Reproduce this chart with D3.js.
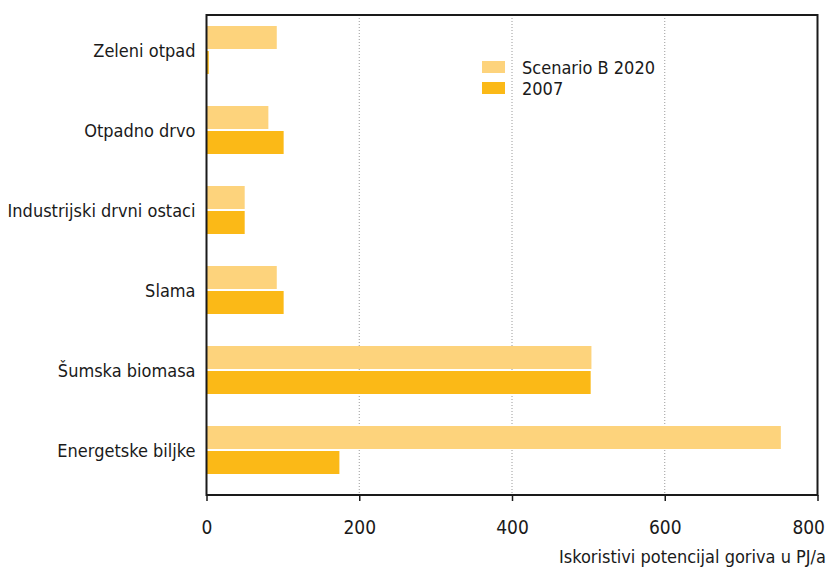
<!DOCTYPE html>
<html><head><meta charset="utf-8">
<script src="https://cdn.jsdelivr.net/npm/d3@7/dist/d3.min.js"></script>
<style>
body{margin:0;background:#fff;}
text{font-family:"DejaVu Sans Condensed","DejaVu Sans",sans-serif;font-stretch:condensed;fill:#1a1a1a;}
</style></head>
<body><svg id="c" width="827" height="569"></svg>
<script>
const categories = ["Zeleni otpad","Otpadno drvo","Industrijski drvni ostaci","Slama","Šumska biomasa","Energetske biljke"];
const scenario2020 = [92, 81, 50, 92, 504, 752];
const values2007 = [3, 101, 50, 101, 503, 174];
const seriesNames = ["Scenario B 2020","2007"];
const xTicks = [0,200,400,600,800];
const axisTitle = "Iskoristivi potencijal goriva u PJ/a";

const colors = ["#fdd37c","#fbb917"];
const svg = d3.select("#c");
const L=206.5, R=817.5, T=15, B=495;
const x = d3.scaleLinear().domain([0,800]).range([L,R]);
const y = d3.scaleBand().domain(categories).range([T,B]);
const barH = 23;

// grid
svg.append("g").selectAll("line").data(xTicks.filter(d=>d>0&&d<800)).join("line")
  .attr("x1",d=>x(d)).attr("x2",d=>x(d)).attr("y1",T).attr("y2",B)
  .attr("stroke","#9a9a9a").attr("stroke-width",1).attr("stroke-dasharray","1,2");

// bars
const series = [scenario2020, values2007];
series.forEach((vals,si)=>{
  svg.append("g").selectAll("rect").data(categories).join("rect")
    .attr("x",x(0)).attr("y",c=>y(c)+11+si*25)
    .attr("width",(c,i)=>x(vals[i])-x(0)).attr("height",barH)
    .attr("fill",colors[si]);
});

// frame
svg.append("rect").attr("x",L).attr("y",T).attr("width",R-L).attr("height",B-T)
  .attr("fill","none").attr("stroke","#1a1a1a").attr("stroke-width",2);

// x axis
const xa = svg.append("g").attr("transform",`translate(0,${B})`)
  .call(d3.axisBottom(x).tickValues(xTicks).tickSize(6).tickPadding(20).tickFormat(d3.format("d")));
xa.select(".domain").remove();
xa.selectAll("line").attr("stroke","#1a1a1a").attr("stroke-width",1.5);
xa.selectAll("text").attr("font-size",19).attr("fill","#1a1a1a");
xa.selectAll("text").filter(d=>d===800).attr("text-anchor","end").attr("dx",7);

// y labels
svg.append("g").selectAll("text").data(categories).join("text")
  .attr("x",L-11).attr("y",c=>y(c)+11+24)
  .attr("text-anchor","end").attr("dominant-baseline","central")
  .attr("font-size",18).text(d=>d);

// axis title
svg.append("text").attr("x",826).attr("y",563).attr("text-anchor","end")
  .attr("font-size",18).text(axisTitle);

// legend
const lg = svg.append("g");
seriesNames.forEach((n,i)=>{
  lg.append("rect").attr("x",482).attr("y",61+i*21).attr("width",23).attr("height",12).attr("fill",colors[i]);
  lg.append("text").attr("x",522).attr("y",67+i*21).attr("dominant-baseline","central")
    .attr("font-size",18).text(n);
});
</script></body></html>
